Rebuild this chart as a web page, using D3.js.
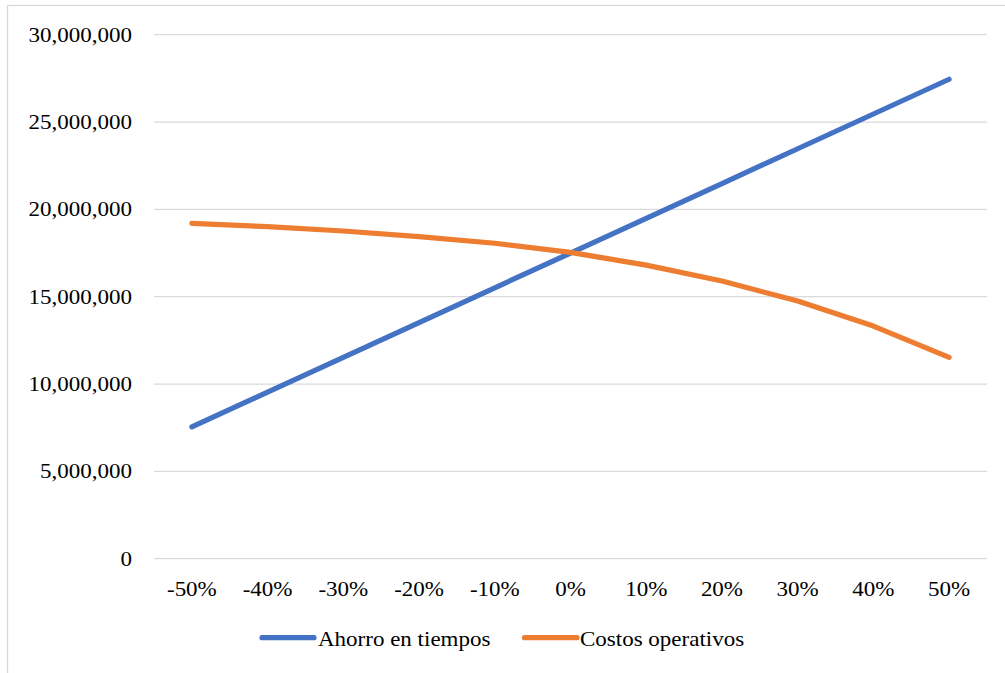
<!DOCTYPE html>
<html>
<head>
<meta charset="utf-8">
<script src="https://cdn.jsdelivr.net/npm/d3@7"></script>
<style>
  html, body { margin: 0; padding: 0; background: #fff; }
  svg { display: block; }
  text { font-family: "Liberation Serif", "Times New Roman", serif; fill: #000; }
</style>
</head>
<body>
<svg id="chart" width="1005" height="673"></svg>
<script>
// Sensitivity scenarios (variation of the base parameter)
const categories = ["-50%", "-40%", "-30%", "-20%", "-10%", "0%", "10%", "20%", "30%", "40%", "50%"];

// Series values
const ahorroTiempos = [7550000, 9540000, 11530000, 13520000, 15510000, 17500000, 19490000, 21480000, 23470000, 25460000, 27450000];
const costosOperativos = [19200000, 19010000, 18760000, 18440000, 18060000, 17540000, 16810000, 15900000, 14750000, 13320000, 11530000];

// Axis ticks
const yTicks = [0, 5000000, 10000000, 15000000, 20000000, 25000000, 30000000];

const seriesNames = ["Ahorro en tiempos", "Costos operativos"];
const seriesColors = ["#4472C4", "#ED7D31"];

const svg = d3.select("#chart");
const W = 1005, H = 673;
const plot = { left: 154, right: 987, top: 34.7, bottom: 558.7 };
const stretch = 1.15; // horizontal text stretch
const fontSize = 20;

// Chart area frame
svg.append("rect")
  .attr("x", 7.5).attr("y", 5.5)
  .attr("width", W + 10).attr("height", H + 10)
  .attr("fill", "#fff")
  .attr("stroke", "#d9d9d9").attr("stroke-width", 1.3);

const x = d3.scaleBand().domain(categories).range([plot.left, plot.right]).padding(0);
const y = d3.scaleLinear().domain([0, 30000000]).range([plot.bottom, plot.top]);

const fmt = d3.format(",");

// Y axis with gridlines
const yAxis = d3.axisLeft(y).tickValues(yTicks).tickSize(0).tickFormat(fmt);
const gy = svg.append("g").attr("transform", `translate(${plot.left},0)`).call(yAxis);
gy.select(".domain").remove();
gy.selectAll(".tick text")
  .attr("x", -22 / stretch)
  .attr("dy", "0.32em")
  .attr("transform", `scale(${stretch},1)`)
  .style("font-size", fontSize + "px")
  .style("font-family", "'Liberation Serif', 'Times New Roman', serif")
  .attr("text-anchor", "end");

const grid = svg.append("g");
grid.selectAll("line").data(yTicks).join("line")
  .attr("x1", plot.left).attr("x2", plot.right)
  .attr("y1", d => y(d)).attr("y2", d => y(d))
  .attr("stroke", "#d9d9d9").attr("stroke-width", 1.3);

// X axis labels
const xAxis = d3.axisBottom(x).tickSize(0);
const gx = svg.append("g").attr("transform", `translate(0,${plot.bottom})`).call(xAxis);
gx.select(".domain").remove();
gx.selectAll(".tick text")
  .attr("y", 37).attr("dy", 0)
  .attr("transform", `scale(${stretch},1)`)
  .attr("x", 0)
  .style("font-size", fontSize + "px")
  .style("font-family", "'Liberation Serif', 'Times New Roman', serif")
  .attr("text-anchor", "middle");

// Lines
const line = d3.line()
  .x((d, i) => x(categories[i]) + x.bandwidth() / 2)
  .y(d => y(d));

[ahorroTiempos, costosOperativos].forEach((vals, k) => {
  svg.append("path")
    .datum(vals)
    .attr("d", line)
    .attr("fill", "none")
    .attr("stroke", seriesColors[k])
    .attr("stroke-width", 5.2)
    .attr("stroke-linecap", "round")
    .attr("stroke-linejoin", "round");
});

// Legend
const legendItems = [
  { x0: 262, x1: 314, tx: 318 },
  { x0: 524.5, x1: 577, tx: 580 }
];
const legendY = 637.7;
const lg = svg.append("g");
legendItems.forEach((it, k) => {
  lg.append("line")
    .attr("x1", it.x0).attr("x2", it.x1)
    .attr("y1", legendY).attr("y2", legendY)
    .attr("stroke", seriesColors[k])
    .attr("stroke-width", 5.2)
    .attr("stroke-linecap", "round");
  lg.append("text")
    .attr("transform", `translate(${it.tx},646) scale(${stretch},1)`)
    .style("font-size", fontSize + "px")
    .text(seriesNames[k]);
});
</script>
</body>
</html>
